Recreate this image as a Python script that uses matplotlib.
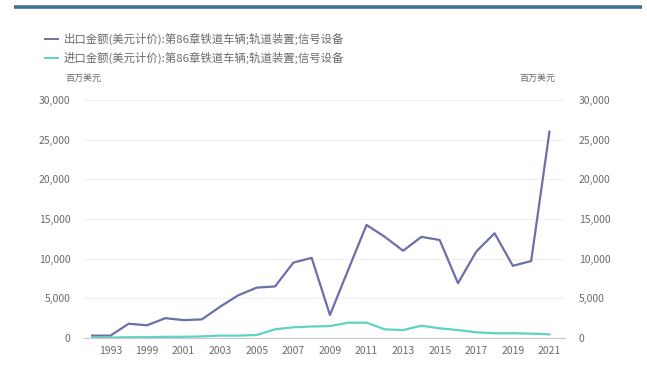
import matplotlib.pyplot as plt
from matplotlib.lines import Line2D
from matplotlib.ticker import FuncFormatter

plt.rcParams["font.family"] = ["Noto Sans CJK SC", "DejaVu Sans"]

years = ["1992", "1993", "1998", "1999", "2000", "2001", "2002", "2003", "2004",
         "2005", "2006", "2007", "2008", "2009", "2010", "2011", "2012", "2013",
         "2014", "2015", "2016", "2017", "2018", "2019", "2020", "2021"]
export_usd = [300, 300, 1800, 1600, 2500, 2250, 2350, 3950, 5400, 6350, 6500, 9500,
              10100, 2900, 8600, 14250, 12750, 11000, 12750, 12350, 6900, 10900,
              13200, 9100, 9700, 26000]
import_usd = [50, 50, 100, 100, 150, 150, 200, 300, 300, 380, 1100, 1350, 1450,
              1500, 1930, 1930, 1090, 1000, 1550, 1220, 1000, 720, 600, 600, 550, 460]

export_label = "出口金额(美元计价):第86章铁道车辆;轨道装置;信号设备"
import_label = "进口金额(美元计价):第86章铁道车辆;轨道装置;信号设备"
unit = "百万美元"

purple = "#6c70a8"
teal = "#5fd3c1"
text_grey = "#6b6b6b"

fig = plt.figure(figsize=(6.47, 3.81), dpi=100)
fig.patch.set_facecolor("white")

# header rule
fig.add_artist(Line2D([14 / 647, 642 / 647], [1 - 6.5 / 381] * 2,
                      color="#3f7097", lw=2.6, solid_capstyle="butt"))

ax = fig.add_axes([83 / 647, 1 - 338 / 381, (565 - 83) / 647, (338 - 100) / 381])
x = list(range(len(years)))
ax.plot(x, export_usd, color=purple, lw=1.6)
ax.plot(x, import_usd, color=teal, lw=1.6)

ax.set_xlim(-0.5, 25.85)
ax.set_ylim(0, 30000)
ax.set_yticks(range(0, 30001, 5000))
fmt = FuncFormatter(lambda v, p: f"{int(v):,}")
ax.yaxis.set_major_formatter(fmt)
ax.set_xticks(x[1::2])
ax.set_xticklabels(years[1::2])
ax.grid(axis="y", color="#f0f0f0", lw=0.8)
ax.set_axisbelow(True)
for s in ["top", "right", "left"]:
    ax.spines[s].set_visible(False)
ax.spines["bottom"].set_color("#c8c8c8")
ax.tick_params(axis="both", length=0, labelsize=7.5, colors=text_grey)
ax.tick_params(axis="y", pad=9)
ax.tick_params(axis="x", pad=6)

ax2 = ax.twinx()
ax2.set_ylim(0, 30000)
ax2.set_yticks(range(0, 30001, 5000))
ax2.yaxis.set_major_formatter(fmt)
for s in ax2.spines.values():
    s.set_visible(False)
ax2.tick_params(axis="y", length=0, labelsize=7.5, colors=text_grey, pad=10)

# legend and unit labels
for yy, col, lab in [(39, purple, export_label), (58, teal, import_label)]:
    fig.add_artist(Line2D([45 / 647, 58 / 647], [1 - yy / 381] * 2, color=col, lw=1.4))
    fig.text(64 / 647, 1 - yy / 381, lab, fontsize=8.2, color=text_grey, va="center")
fig.text(83 / 647, 1 - 78 / 381, unit, fontsize=6.5, color=text_grey, ha="center", va="center")
fig.text(537 / 647, 1 - 78 / 381, unit, fontsize=6.5, color=text_grey, ha="center", va="center")

fig.savefig("out.png", dpi=100)
